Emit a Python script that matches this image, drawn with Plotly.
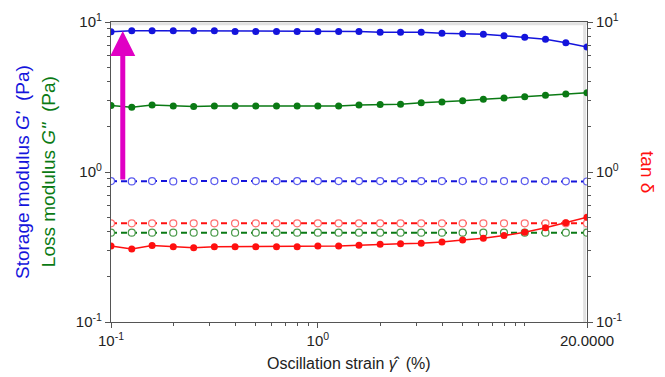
import plotly.graph_objects as go
import math

strain = [0.1, 0.126, 0.158, 0.2, 0.251, 0.316, 0.398, 0.501, 0.631, 0.794,
          1.0, 1.26, 1.58, 2.0, 2.51, 3.16, 3.98, 5.01, 6.31, 7.94,
          10.0, 12.6, 15.8, 20.0]

g_storage = [8.6, 8.75, 8.75, 8.75, 8.75, 8.75, 8.65, 8.65, 8.65, 8.65,
             8.65, 8.65, 8.65, 8.55, 8.55, 8.55, 8.41, 8.36, 8.28, 8.11,
             7.91, 7.67, 7.28, 6.81]
g_loss = [2.78, 2.70, 2.80, 2.75, 2.73, 2.75, 2.75, 2.75, 2.75, 2.75,
          2.75, 2.75, 2.80, 2.82, 2.83, 2.90, 2.93, 2.99, 3.05, 3.11,
          3.18, 3.25, 3.31, 3.38]
tan_delta = [0.321, 0.307, 0.323, 0.318, 0.313, 0.318, 0.318, 0.318, 0.318, 0.318,
             0.321, 0.321, 0.325, 0.330, 0.333, 0.335, 0.341, 0.352, 0.362, 0.377,
             0.396, 0.425, 0.459, 0.499]

g_storage_ref = [0.87, 0.865, 0.87, 0.865, 0.87, 0.87, 0.87, 0.87, 0.87, 0.87,
                 0.87, 0.87, 0.87, 0.87, 0.87, 0.87, 0.87, 0.87, 0.87, 0.87,
                 0.87, 0.87, 0.866, 0.864]
g_loss_ref = [0.394] * 24
tan_delta_ref = [0.455] * 24

arrow_x = 0.114
arrow_from = 0.87
arrow_to = 8.7

y_ticks = [0.1, 1, 10]
y_ticktext = ["10<sup>-1</sup>", "10<sup>0</sup>", "10<sup>1</sup>"]
x_ticks = [0.1, 1, 20]
x_ticktext = ["10<sup>-1</sup>", "10<sup>0</sup>", "20.0000"]
y_minor = [m * d for d in (0.1, 1) for m in range(2, 10)]
x_minor = [m * d for d in (0.1, 1) for m in range(2, 10)] + [10]

BLUE = "#1414dc"
GREEN = "#0a7a14"
RED = "#ff1010"

fig = go.Figure()

def solid(y, color, axis="y"):
    fig.add_trace(go.Scatter(x=strain, y=y, mode="lines+markers", yaxis=axis,
                             line=dict(color=color, width=1.5),
                             marker=dict(color=color, size=7, symbol="circle"),
                             showlegend=False))

def dashed(y, color, mcolor, axis="y"):
    fig.add_trace(go.Scatter(x=strain, y=y, mode="lines+markers", yaxis=axis,
                             line=dict(color=color, width=2, dash="6px,4px"),
                             marker=dict(color="white", size=7, symbol="circle",
                                         line=dict(color=mcolor, width=1.2)),
                             showlegend=False))

dashed(g_storage_ref, BLUE, "#5a5aee")
dashed(g_loss_ref, GREEN, "#4a9a4a")
dashed(tan_delta_ref, RED, "#ff7070", "y2")
solid(g_storage, BLUE)
solid(g_loss, GREEN)
solid(tan_delta, RED, "y2")

font = "Liberation Sans, Arial, sans-serif"
axcommon = dict(type="log", showgrid=False, zeroline=False, showline=True,
                linecolor="#555555", linewidth=1.2, ticks="outside", ticklen=5,
                tickcolor="#555555", tickfont=dict(family=font, size=15, color="#222"))

fig.update_layout(
    width=665, height=377,
    margin=dict(l=111, r=78, t=22, b=55),
    paper_bgcolor="white", plot_bgcolor="white",
    xaxis=dict(**axcommon, range=[-1, math.log10(20)], tickmode="array",
               tickvals=x_ticks, ticktext=x_ticktext, mirror=True,
               minor=dict(tickmode="array", tickvals=x_minor, ticks="outside",
                          ticklen=3, tickcolor="#555555")),
    yaxis=dict(**axcommon, range=[-1, 1], tickmode="array",
               tickvals=y_ticks, ticktext=y_ticktext,
               minor=dict(tickmode="array", tickvals=y_minor, ticks="outside",
                          ticklen=3, tickcolor="#555555")),
    yaxis2=dict(**axcommon, range=[-1, 1], tickmode="array", overlaying="y",
                side="right", tickvals=y_ticks, ticktext=y_ticktext,
                minor=dict(tickmode="array", tickvals=y_minor, ticks="outside",
                           ticklen=3, tickcolor="#555555")),
)

# light shading inside top and right edges of the frame
fig.add_shape(type="line", xref="paper", yref="paper", x0=0, x1=1, y0=0.994, y1=0.994,
              line=dict(color="#e2e2e2", width=3), layer="below")
fig.add_shape(type="line", xref="paper", yref="paper", x0=0.995, x1=0.995, y0=0, y1=1,
              line=dict(color="#e2e2e2", width=3), layer="below")

# magenta arrow
fig.add_annotation(x=math.log10(arrow_x), y=math.log10(arrow_to),
                   ax=math.log10(arrow_x), ay=math.log10(arrow_from),
                   xref="x", yref="y", axref="x", ayref="y",
                   showarrow=True, arrowhead=2, arrowsize=1.0, arrowwidth=5,
                   arrowcolor="#e000c4", text="")

# axis titles
fig.add_annotation(x=-0.187, y=0.5, xref="paper", yref="paper", textangle=-90,
                   text="Storage modulus <i>G'</i>  (Pa)", showarrow=False,
                   font=dict(family=font, size=19, color=BLUE), xanchor="center", yanchor="middle")
fig.add_annotation(x=-0.132, y=0.5, xref="paper", yref="paper", textangle=-90,
                   text="Loss modulus <i>G''</i>  (Pa)", showarrow=False,
                   font=dict(family=font, size=19, color=GREEN), xanchor="center", yanchor="middle")
fig.add_annotation(x=1.128, y=0.5, xref="paper", yref="paper", textangle=90,
                   text="tan δ", showarrow=False,
                   font=dict(family=font, size=19, color=RED), xanchor="center", yanchor="middle")
fig.add_annotation(x=0.5, y=-0.137, xref="paper", yref="paper",
                   text="Oscillation strain <i>γ̂</i>  (%)", showarrow=False,
                   font=dict(family=font, size=16, color="#222"), xanchor="center", yanchor="middle")

fig.write_html("out.html")
